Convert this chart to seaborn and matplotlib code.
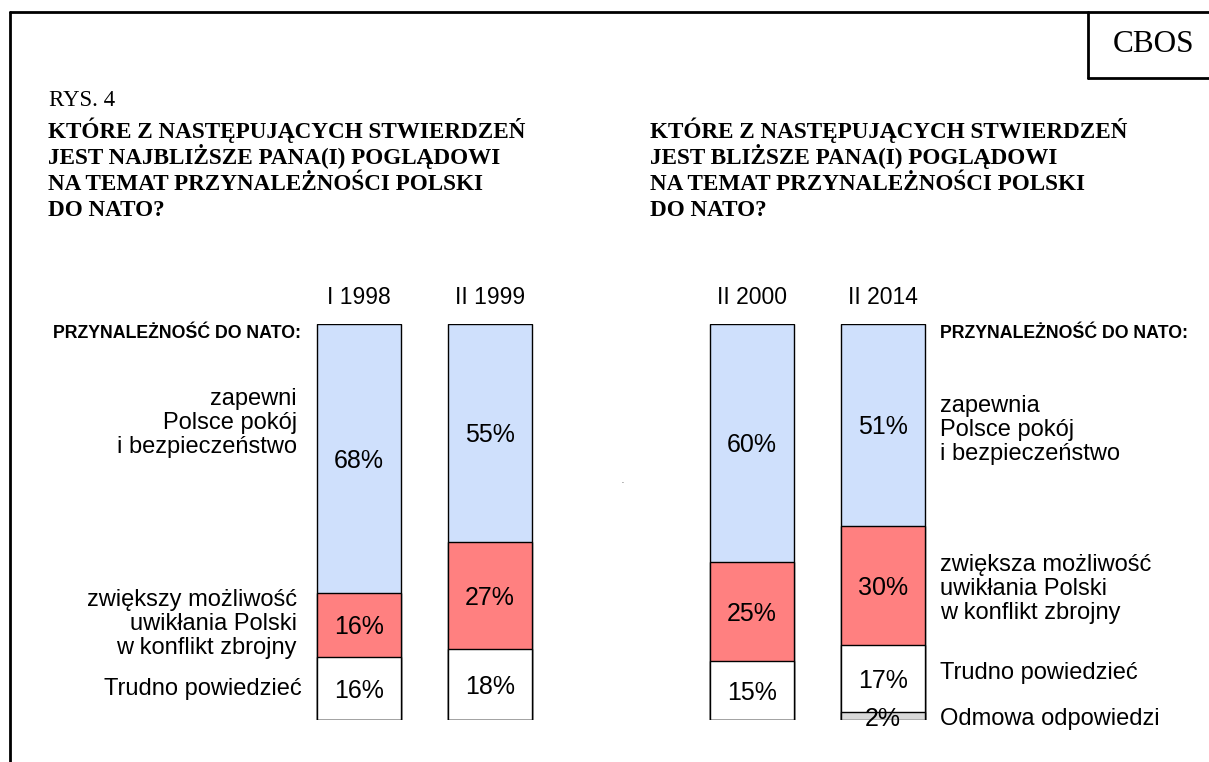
import matplotlib
matplotlib.use("Agg")
import matplotlib.pyplot as plt
import numpy as np
import seaborn as sns

# survey waves and answers (percent)
periods = ["I 1998", "II 1999", "II 2000", "II 2014"]
peace = [68, 55, 60, 51]
conflict = [16, 27, 25, 30]
hard_to_say = [16, 18, 15, 17]
refusal = [0, 0, 0, 2]

# empty slot between the two panels
order = ["I 1998", "II 1999", " ", "II 2000", "II 2014"]

colors = {"peace": "#CFE0FC", "conflict": "#FF8080", "hard": "#FFFFFF", "refusal": "#D9D9D9"}

title_l = ["KTÓRE Z NASTĘPUJĄCYCH STWIERDZEŃ", "JEST NAJBLIŻSZE PANA(I) POGLĄDOWI",
           "NA TEMAT PRZYNALEŻNOŚCI POLSKI", "DO NATO?"]
title_r = ["KTÓRE Z NASTĘPUJĄCYCH STWIERDZEŃ", "JEST BLIŻSZE PANA(I) POGLĄDOWI",
           "NA TEMAT PRZYNALEŻNOŚCI POLSKI", "DO NATO?"]

W, H = 1209, 762

sns.set_theme(style="white")
plt.rcParams["font.family"] = ["Liberation Sans", "DejaVu Sans"]
plt.rcParams["text.color"] = "black"
plt.rcParams["xtick.color"] = "black"

fig = plt.figure(figsize=(W / 100, H / 100), dpi=100)
ax = fig.add_axes([293.5 / W, 42 / H, 655 / W, 396 / H])


def px(x, y):
    """pixel position (from top-left) to figure fraction"""
    return x / W, 1 - y / H


# stacked bars drawn as overlapping cumulative layers
r = np.array(refusal)
h = r + np.array(hard_to_say)
c = h + np.array(conflict)
p = c + np.array(peace)
for tops, col in [(p, colors["peace"]), (c, colors["conflict"]), (h, colors["hard"]), (r, colors["refusal"])]:
    sns.barplot(x=periods, y=tops, order=order, color=col, saturation=1, width=0.64,
                edgecolor="black", linewidth=1, errorbar=None, ax=ax)

# value labels in the middle of each segment
pos = [order.index(q) for q in periods]
for i, xi in enumerate(pos):
    for lo, val in [(c[i], peace[i]), (h[i], conflict[i]), (r[i], hard_to_say[i]), (0, refusal[i])]:
        if val > 0:
            ax.text(xi, lo + val / 2, f"{val}%", ha="center", va="center_baseline", fontsize=18)

ax.set_xlim(-0.5, len(order) - 0.5)
ax.set_ylim(0, 100)
ax.xaxis.tick_top()
ax.tick_params(axis="x", length=0, pad=11, labelsize=16.5)
ax.set_yticks([])
ax.set_xlabel("")
ax.set_ylabel("")
for s in ax.spines.values():
    s.set_visible(False)

# frame and CBOS box
lk = dict(color="black", linewidth=2, transform=fig.transFigure)
fig.add_artist(plt.Line2D([10 / W, 1], [1 - 12 / H] * 2, **lk))
fig.add_artist(plt.Line2D([10 / W] * 2, [1 - 12 / H, 0], **lk))
fig.add_artist(plt.Line2D([1088 / W] * 2, [1 - 12 / H, 1 - 78 / H], **lk))
fig.add_artist(plt.Line2D([1088 / W, 1], [1 - 78 / H] * 2, **lk))
fig.text(*px(1154, 45), "CBOS", ha="center", va="center", fontsize=22.5, family=["Liberation Serif"])

# titles
fig.text(*px(49, 106), "RYS. 4", ha="left", va="baseline", fontsize=16.5, family=["Liberation Serif"])
for x0, lines in [(48, title_l), (650, title_r)]:
    for k, line in enumerate(lines):
        fig.text(*px(x0, 138 + 26 * k), line, ha="left", va="baseline", fontsize=16.7,
                 fontweight="bold", family=["Liberation Serif"])

# category labels, left panel
fig.text(*px(301, 333), "PRZYNALEŻNOŚĆ DO NATO:", ha="right", va="center", fontsize=12.8, fontweight="bold")
fig.text(*px(297, 423), "zapewni\nPolsce pokój\ni bezpieczeństwo", ha="right", va="center",
         fontsize=17, linespacing=1.12)
fig.text(*px(297, 624), "zwiększy możliwość\nuwikłania Polski\nw konflikt zbrojny", ha="right", va="center",
         fontsize=17, linespacing=1.12)
fig.text(*px(302, 689), "Trudno powiedzieć", ha="right", va="center", fontsize=17)

# category labels, right panel
fig.text(*px(940, 333), "PRZYNALEŻNOŚĆ DO NATO:", ha="left", va="center", fontsize=12.8, fontweight="bold")
fig.text(*px(940, 430), "zapewnia\nPolsce pokój\ni bezpieczeństwo", ha="left", va="center",
         fontsize=17, linespacing=1.12)
fig.text(*px(940, 589), "zwiększa możliwość\nuwikłania Polski\nw konflikt zbrojny", ha="left", va="center",
         fontsize=17, linespacing=1.12)
fig.text(*px(940, 673), "Trudno powiedzieć", ha="left", va="center", fontsize=17)
fig.text(*px(940, 719), "Odmowa odpowiedzi", ha="left", va="center", fontsize=17)

# stray dot in the original
fig.text(*px(622, 483), ".", ha="center", va="baseline", fontsize=5)

fig.savefig("out.png", dpi=100)
